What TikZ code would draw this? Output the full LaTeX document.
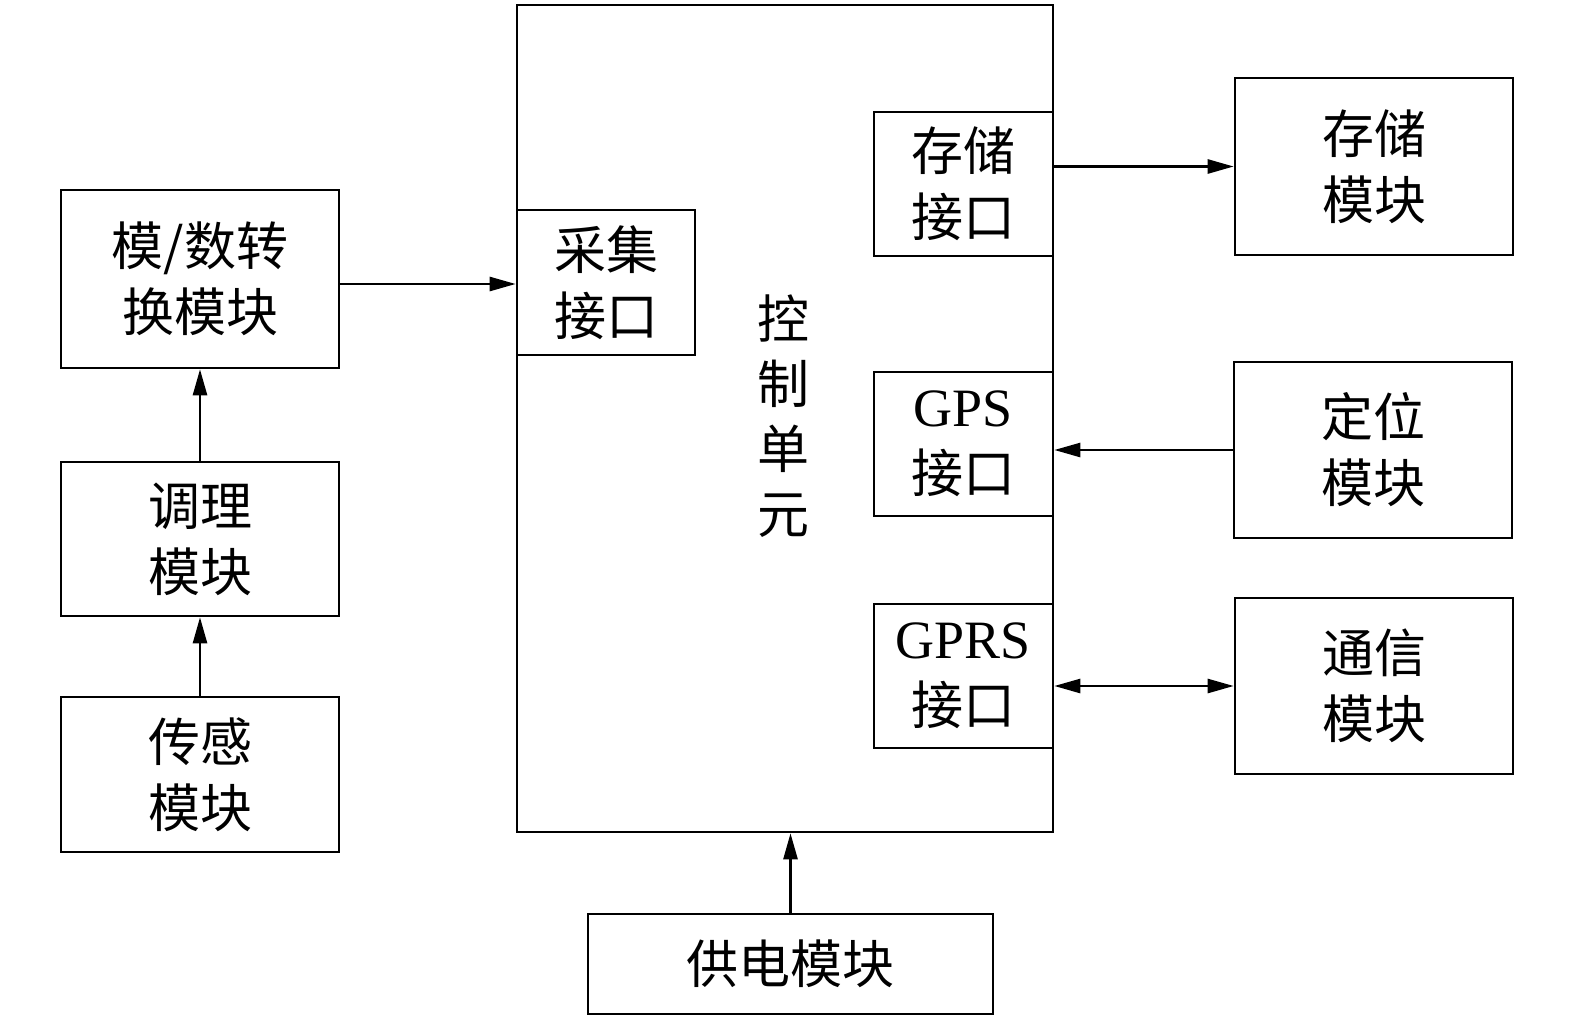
\documentclass[tikz,border=0pt]{standalone}
\usepackage{fontspec}
\setmainfont{Liberation Serif}
\newfontfamily\cjk{Noto Sans CJK SC}
\usetikzlibrary{arrows.meta}
\begin{document}
\begin{tikzpicture}[x=1pt,y=-1pt,
  box/.style={draw,line width=2.6pt,rectangle,inner sep=0pt,align=center,font=\cjk\fontsize{52}{66}\selectfont},
  conn/.style={line width=2.6pt,-{Triangle[length=26pt,width=14pt]}},
  bconn/.style={line width=2.6pt,{Triangle[length=26pt,width=14pt]}-{Triangle[length=26pt,width=14pt]}}]
\useasboundingbox (0,0) rectangle (1575,1020);
\node[box,minimum width=536pt,minimum height=827pt] (ctrl) at (785,418.5) {};
\node[box,minimum width=178pt,minimum height=145pt] (caiji) at (606,282.5) {采集\\接口};
\node[box,minimum width=179pt,minimum height=144pt] (cunchuI) at (963.5,184) {存储\\接口};
\node[box,minimum width=179pt,minimum height=144pt] (gpsI) at (963.5,444) {{\rmfamily\fontsize{54}{66}\selectfont GPS}\\接口};
\node[box,minimum width=179pt,minimum height=144pt] (gprsI) at (963.5,676) {{\rmfamily\fontsize{54}{66}\selectfont GPRS}\\接口};
\node[font=\cjk\fontsize{52}{65}\selectfont,align=center,inner sep=0pt] (ctrltext) at (783,416) {控\\制\\单\\元};
\node[box,minimum width=278pt,minimum height=177pt] (cunchuM) at (1374,166.5) {存储\\模块};
\node[box,minimum width=278pt,minimum height=176pt] (dingwei) at (1373,450) {定位\\模块};
\node[box,minimum width=278pt,minimum height=176pt] (tongxin) at (1374,686) {通信\\模块};
\node[box,minimum width=278pt,minimum height=178pt] (AD) at (200,279) {模/数转\\换模块};
\node[box,minimum width=278pt,minimum height=154pt] (tiaoli) at (200,539) {调理\\模块};
\node[box,minimum width=278pt,minimum height=155pt] (chuangan) at (200,774.5) {传感\\模块};
\node[box,minimum width=405pt,minimum height=100pt] (gongdian) at (790.5,964) {供电模块};
\draw[conn] ([yshift=-5pt]AD.east) -- ([yshift=-5pt]AD.east -| caiji.west);
\draw[conn] (tiaoli.north) -- (AD.south);
\draw[conn] (chuangan.north) -- (tiaoli.south);
\draw[conn] (cunchuM.west -| cunchuI.east) -- (cunchuM.west);
\draw[conn] (dingwei.west) -- (dingwei.west -| gpsI.east);
\draw[bconn] (tongxin.west -| gprsI.east) -- (tongxin.west);
\draw[conn] (gongdian.north) -- (gongdian.north |- ctrl.south);
\end{tikzpicture}
\end{document}
